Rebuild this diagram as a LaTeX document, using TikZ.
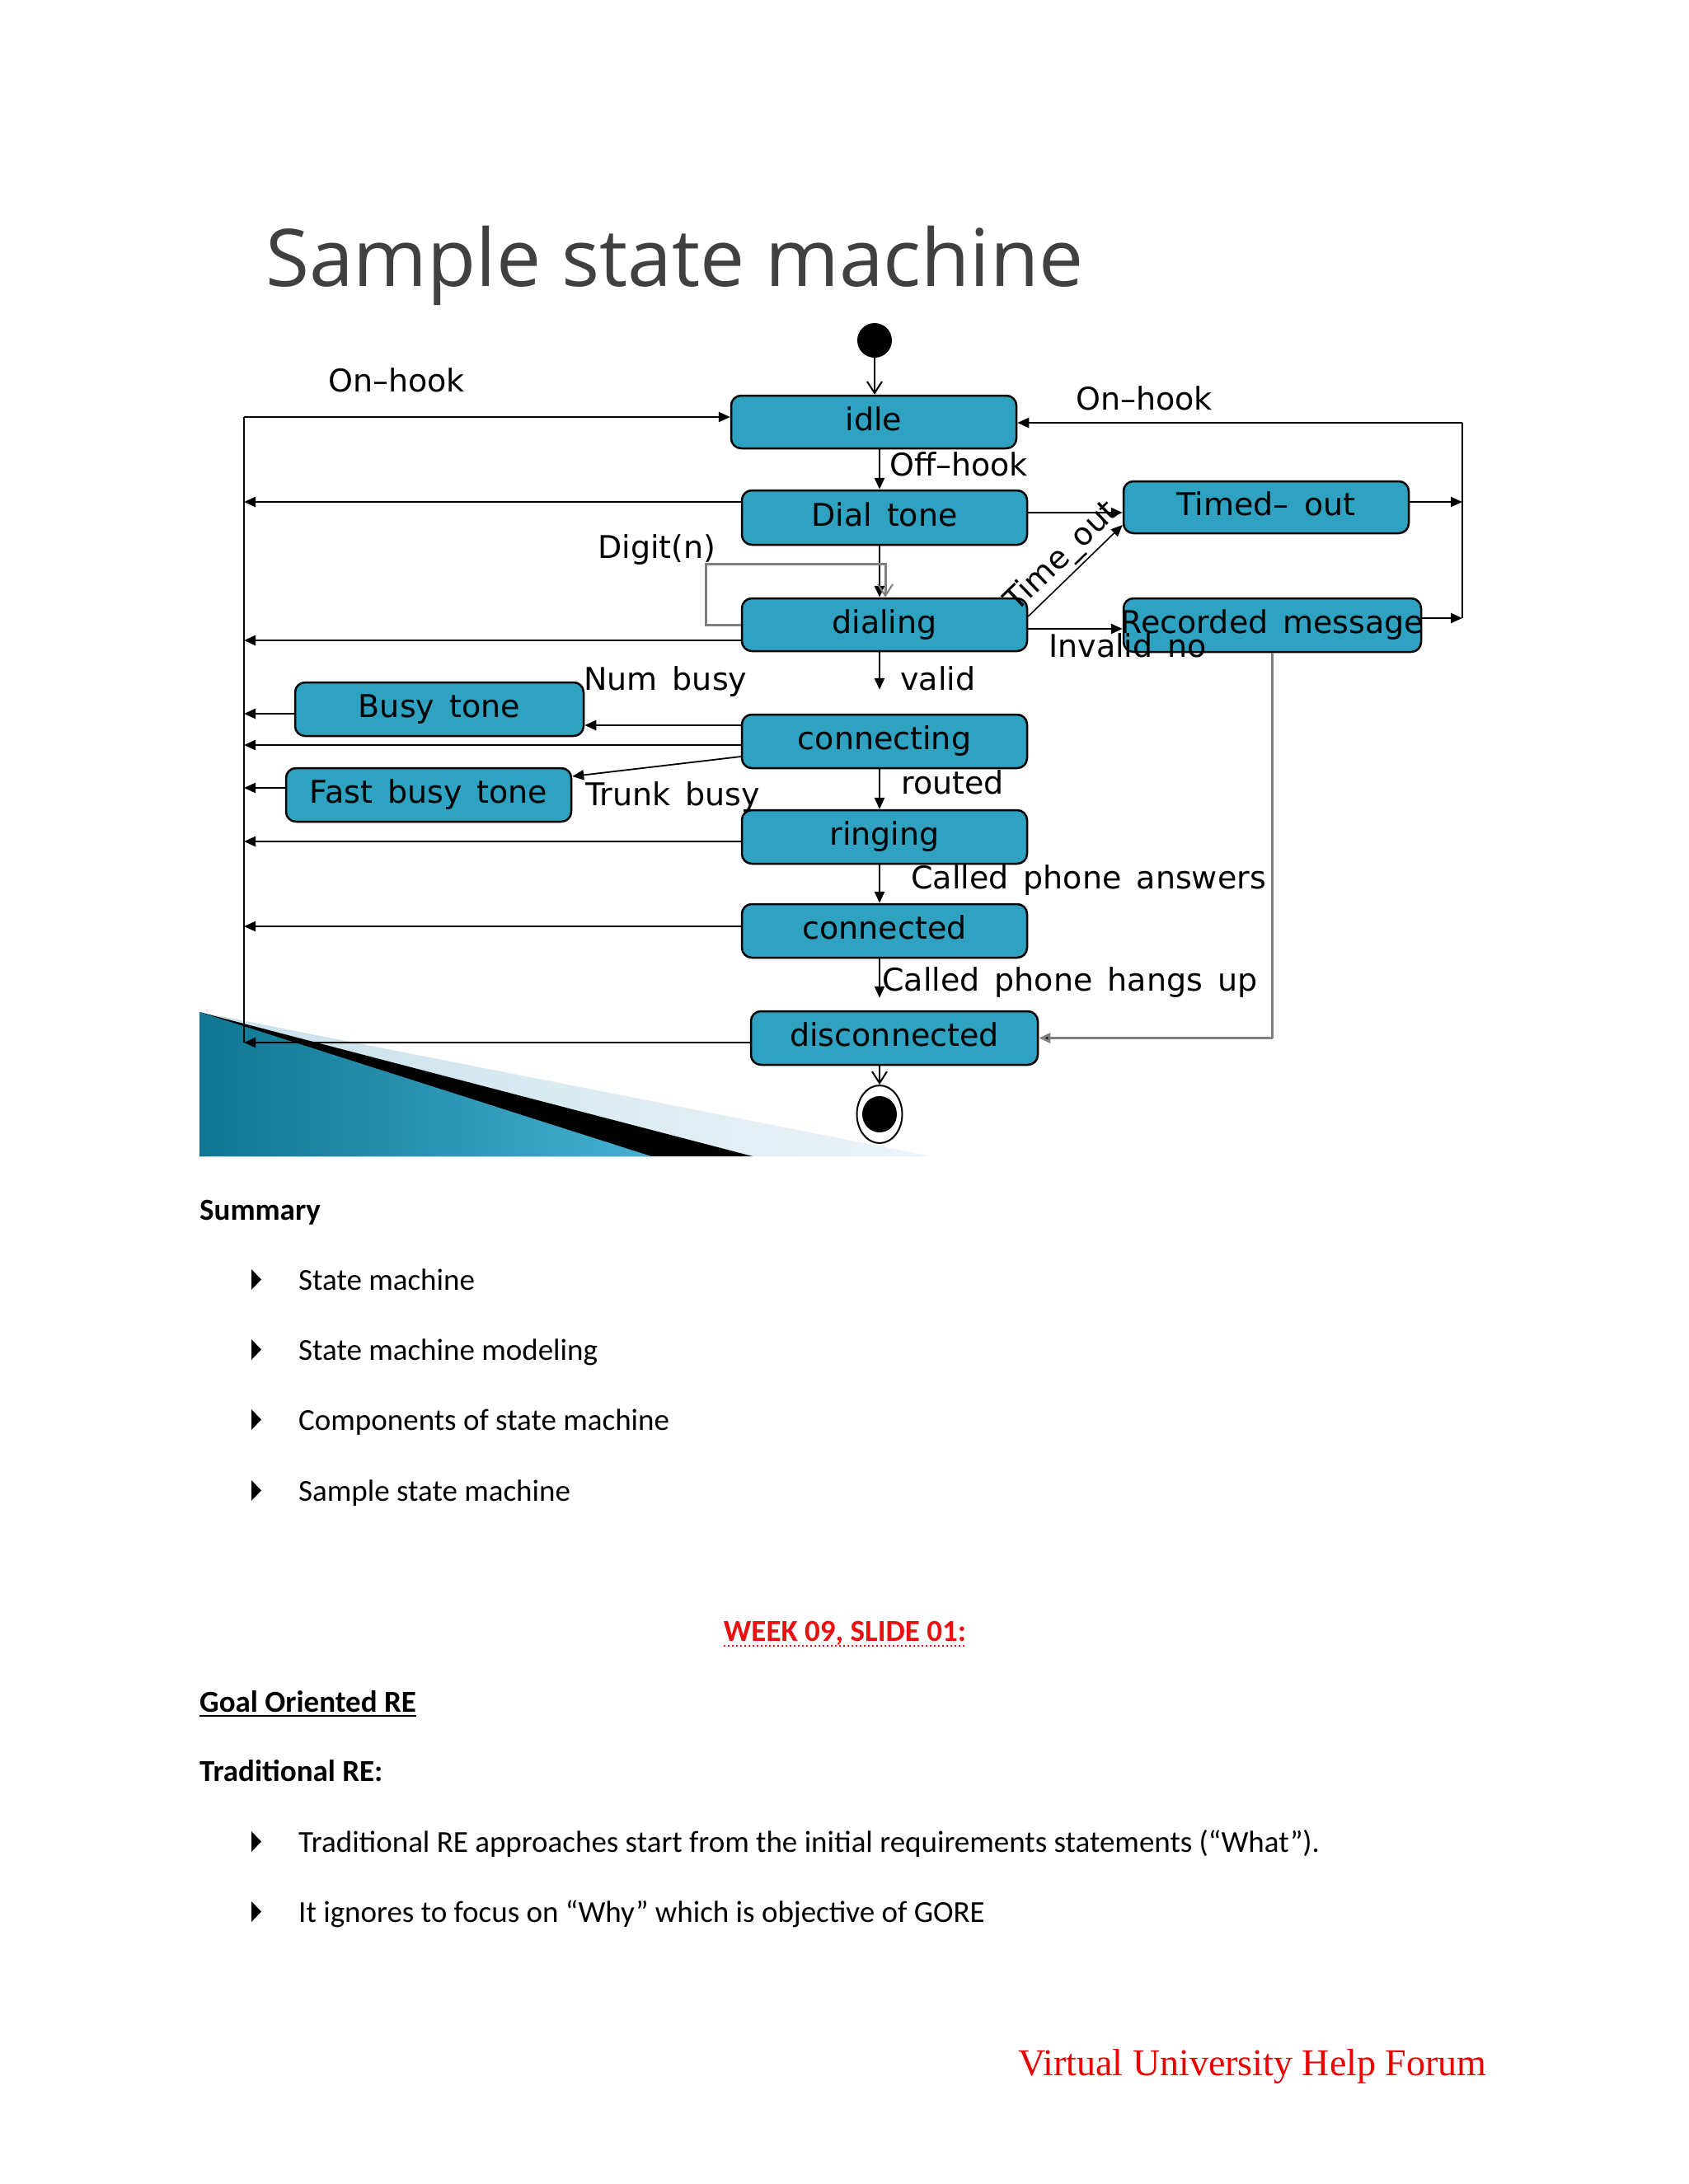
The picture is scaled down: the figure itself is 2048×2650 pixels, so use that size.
\documentclass[tikz,border=0pt]{standalone}
\usepackage{fontspec}
\setmainfont{Carlito}
\newfontfamily\diafont[WordSpace=1.5]{DejaVu Sans}
\newfontfamily\titfont{Open Sans}
\newfontfamily\footfont{Liberation Serif}
\usetikzlibrary{arrows.meta,calc,shapes.geometric}
\definecolor{boxblue}{RGB}{46,162,192}
\definecolor{titgray}{RGB}{64,64,64}
\definecolor{wkred}{RGB}{232,16,16}
\definecolor{ftred}{RGB}{235,0,0}
\definecolor{loopgray}{RGB}{128,128,128}
\definecolor{tealdark}{RGB}{14,118,146}
\definecolor{teallight}{RGB}{70,176,208}
\definecolor{palesky}{RGB}{200,224,235}
\begin{document}
\begin{tikzpicture}[x=1pt,y=-1pt,
  state/.style={draw=black, line width=2.5pt, fill=boxblue, rounded corners=12pt,
    inner sep=0pt, text height=28pt, text depth=8pt,
    font=\diafont\fontsize{38}{44}\selectfont},
  lbl/.style={anchor=base west, inner sep=0pt, font=\diafont\fontsize{38}{44}\selectfont},
  conn/.style={line width=2.5pt, -{Triangle[length=14pt,width=12pt]}},
  bare/.style={line width=2.5pt},
  openarr/.style={line width=2.5pt, -{Straight Barb[length=14pt,width=18pt,line width=2pt]}},
  graylink/.style={draw=loopgray, line width=3pt},
  body/.style={anchor=base west, inner sep=0pt, font=\fontsize{37}{44}\selectfont},
  bodyb/.style={anchor=base west, inner sep=0pt, font=\fontsize{37}{44}\selectfont\bfseries},
  bul/.style={fill=black}
]
\useasboundingbox (0,0) rectangle (2048,2650);
\fill[white] (0,0) rectangle (2048,2650);

% ---------- decoration bottom left ----------
\shade[left color=palesky, right color=palesky!35] (242,1228) -- (1130,1403) -- (242,1403) -- cycle;
\fill[black] (242,1228) -- (913,1403) -- (242,1403) -- cycle;
\shade[left color=tealdark, right color=teallight] (242,1228) -- (790,1403) -- (242,1403) -- cycle;

% ---------- title ----------
\node[anchor=base west, inner sep=0pt, text=titgray, font=\titfont\fontsize{96.5}{110}\selectfont]
  (title) at (322,347) {Sample state machine};

% ---------- states ----------
\node[circle, fill=black, minimum size=42pt, inner sep=0pt] (init) at (1061,413) {};
\node[state, minimum width=346pt, minimum height=64pt] (idle) at (1060,512) {idle};
\node[state, minimum width=346pt, minimum height=66pt] (dial) at (1073,628) {Dial tone};
\node[state, minimum width=346pt, minimum height=64pt] (dialing) at (1073,758) {dialing};
\node[state, minimum width=346pt, minimum height=63pt] (timed) at (1536,615.5) {Timed– out};
\node[state, minimum width=361pt, minimum height=65pt] (recorded) at (1543.5,758.5) {\makebox[0pt][c]{Recorded message}};
\node[state, minimum width=350pt, minimum height=65pt] (busy) at (533,860.5) {Busy tone};
\node[state, minimum width=346pt, minimum height=65pt] (connecting) at (1073,899.5) {connecting};
\node[state, minimum width=346pt, minimum height=65pt] (fastbusy) at (520,964.5) {Fast busy tone};
\node[state, minimum width=346pt, minimum height=65pt] (ringing) at (1073,1015.5) {ringing};
\node[state, minimum width=346pt, minimum height=65pt] (connected) at (1073,1129.5) {connected};
\node[state, minimum width=348pt, minimum height=65pt] (disconnected) at (1085,1259.5) {disconnected};
\node[ellipse, draw=black, line width=2pt, minimum width=55pt, minimum height=70pt, inner sep=0pt] (final) at (1067,1352) {};
\node[ellipse, fill=black, minimum width=42pt, minimum height=44pt, inner sep=0pt] (finalin) at (final.center) {};

% ---------- bus coordinates ----------
\coordinate (lbTop) at (296,506);
\coordinate (lbBot) at (296,1265);
\coordinate (rbTop) at (1774,513);
\coordinate (rbBot) at (1774,750);
\coordinate (vx) at (1067,0);

% ---------- vertical main flow ----------
\draw[openarr] (init.south) -- (init |- idle.north);
\draw[conn] (vx |- idle.south) -- (vx |- dial.north);
\draw[conn] (vx |- dial.south) -- (vx |- dialing.north);
\draw[graylink, -{Straight Barb[length=14pt,width=18pt,line width=2pt]}]
  (dialing.west) -- ++(-42,0) -- ++(0,-74) -| ([xshift=1pt]dialing.north);
\draw[conn] (vx |- dialing.south) -- ([yshift=29pt]vx |- connecting.north);
\draw[conn] (vx |- connecting.south) -- (vx |- ringing.north);
\draw[conn] (vx |- ringing.south) -- (vx |- connected.north);
\draw[conn] (vx |- connected.south) -- ([yshift=15pt]vx |- disconnected.north);
\draw[openarr] (final |- disconnected.south) -- (final.north);

% ---------- right side ----------
\draw[conn] ([yshift=6pt]dial.east) -- ([yshift=6pt]dial.east -| timed.west);
\draw[line width=1.6pt, -{Triangle[length=14pt,width=12pt]}] ([yshift=10pt]dialing.east) --
  node[midway, sloped, above, inner sep=3pt, font=\diafont\fontsize{38}{44}\selectfont] (ltime) {Time\_out}
  ([yshift=-21.5pt]timed.west);
\draw[conn] ([yshift=-5pt]dialing.east) -- ([yshift=-5pt]dialing.east -| recorded.west);
\draw[conn] ([yshift=6.5pt]timed.east) -- ([yshift=6.5pt]timed.east -| rbTop);
\draw[conn] ([yshift=8.5pt]recorded.east) -- ([yshift=8.5pt]recorded.east -| rbTop);
\draw[bare] (rbBot) -- (rbTop);
\draw[conn] (rbTop) -- (rbTop -| idle.east);
\draw[graylink] (recorded.south) -- (recorded.south |- disconnected.east);
\draw[graylink, -{Triangle[length=14pt,width=12pt,fill=black]}] (recorded.south |- disconnected.east) -- (disconnected.east);

% ---------- left side ----------
\draw[bare] (lbTop) -- (lbBot);
\draw[conn] (lbTop) -- (lbTop -| idle.west);
\draw[conn] ([yshift=19pt]dial.west) -- ([yshift=19pt]dial.west -| lbTop);
\draw[conn] ([yshift=-19pt]dialing.west) -- ([yshift=-19pt]dialing.west -| lbTop);
\draw[conn] ([yshift=-5.5pt]busy.west) -- ([yshift=-5.5pt]busy.west -| lbTop);
\draw[conn] ([yshift=19.5pt]connecting.west) -- ([yshift=19.5pt]connecting.west -| busy.east);
\draw[conn] ([yshift=-4.5pt]connecting.west) -- ([yshift=-4.5pt]connecting.west -| lbTop);
\draw[line width=1.8pt, -{Triangle[length=14pt,width=12pt]}] ([yshift=-18.5pt]connecting.west) -- ([yshift=22.5pt]fastbusy.east);
\draw[conn] ([yshift=8.5pt]fastbusy.west) -- ([yshift=8.5pt]fastbusy.west -| lbTop);
\draw[conn] ([yshift=-5.5pt]ringing.west) -- ([yshift=-5.5pt]ringing.west -| lbTop);
\draw[conn] ([yshift=5.5pt]connected.west) -- ([yshift=5.5pt]connected.west -| lbTop);
\draw[conn] ([yshift=-5.5pt]disconnected.west) -- (lbBot);

% ---------- labels ----------
\node[lbl] (lonl) at (398,475) {On–hook};
\node[lbl] (lonr) at (1305,497) {On–hook};
\node[lbl] (loff) at (1079,577) {Off–hook};
\node[lbl] (ldigit) at (725,677) {Digit(n)};
\node[lbl] (linv) at (1272,797) {Invalid no};
\node[lbl] (lnum) at (708,837) {Num busy};
\node[lbl] (lvalid) at (1092,837) {valid};
\node[lbl] (ltrunk) at (710,977) {Trunk busy};
\node[lbl] (lrouted) at (1093,963) {routed};
\node[lbl] (lans) at (1105,1078) {Called phone answers};
\node[lbl] (lhang) at (1070,1202) {Called phone hangs up};

% ---------- body text ----------
\node[bodyb] (summary) at (242,1480) {Summary};
\fill[bul] (305,1540) -- (317,1552.5) -- (305,1565) -- cycle;
\node[body] (s1) at (362,1565) {State machine};
\fill[bul] (305,1625) -- (317,1637.5) -- (305,1650) -- cycle;
\node[body] (s2) at (362,1650) {State machine modeling};
\fill[bul] (305,1710) -- (317,1722.5) -- (305,1735) -- cycle;
\node[body] (s3) at (362,1735) {Components of state machine};
\fill[bul] (305,1796) -- (317,1808.5) -- (305,1821) -- cycle;
\node[body] (s4) at (362,1821) {Sample state machine};

\node[bodyb, anchor=base, text=wkred] (week) at (1025,1991) {WEEK 09, SLIDE 01:};
\draw[wkred, line width=2.5pt, dash pattern=on 2.5pt off 2.5pt] ([yshift=-6pt]week.base west) -- ([yshift=-6pt]week.base east);

\node[bodyb] (goal) at (242,2077) {Goal Oriented RE};
\draw[line width=2.5pt] ([yshift=-5pt]goal.base west) -- ([yshift=-5pt]goal.base east);
\node[bodyb] (trad) at (242,2161) {Traditional RE:};
\fill[bul] (305,2222) -- (317,2234.5) -- (305,2247) -- cycle;
\node[body] (t1) at (362,2247) {Traditional RE approaches start from the initial requirements statements (“What”).};
\fill[bul] (305,2307) -- (317,2319.5) -- (305,2332) -- cycle;
\node[body] (t2) at (362,2332) {It ignores to focus on “Why” which is objective of GORE};

\node[anchor=base west, inner sep=0pt, text=ftred, font=\footfont\fontsize{46}{54}\selectfont]
  (footer) at (1235,2518) {Virtual University Help Forum};
\end{tikzpicture}
\end{document}
